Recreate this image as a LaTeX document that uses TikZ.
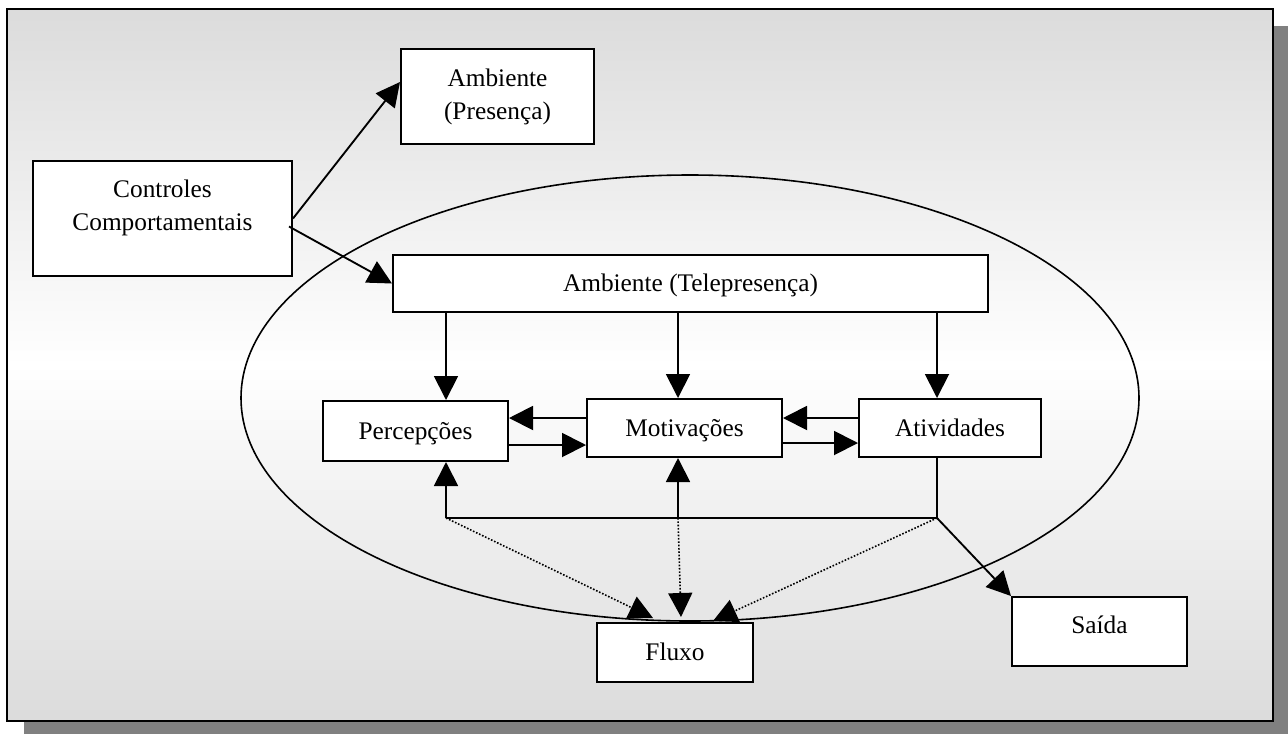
\documentclass[tikz,border=0pt]{standalone}
\usepackage{fontspec}
\setmainfont{Liberation Serif}
\usetikzlibrary{arrows.meta,calc,shapes.geometric}
\begin{document}
\begin{tikzpicture}[x=0.75pt,y=-0.75pt,
  every node/.style={font=\fontsize{19}{24.75}\selectfont},
  box/.style={draw=black,fill=white,line width=1.5pt,inner sep=0pt,align=center},
  lbl/.style={text height=12pt,text depth=0pt},
  arr/.style={line width=1.4pt,-{Triangle[length=18pt,width=18pt]}},
  conn/.style={line width=1.4pt},
  dots/.style={line width=1.2pt,dash pattern=on 1.2pt off 1.3pt,-{Triangle[length=18pt,width=18pt]}}
]
\useasboundingbox (0,0) rectangle (1288,733);
\clip (0,0) rectangle (1288,733);
% shadow and frame
\fill[black!50] (24,26) rectangle (1295,745);
\shade[top color=black!14,bottom color=black!14,middle color=white] (7,9) rectangle (1273,721);
\draw[line width=1.6pt] (7,9) rectangle (1273,721);
% ellipse
\draw[line width=1.2pt] (690,398) ellipse [x radius=449,y radius=223];
% boxes
\node[box,minimum width=193*0.75pt,minimum height=95*0.75pt] (pres) at (497.5,96.5) {Ambiente\\(Presença)};
\node[box,minimum width=259*0.75pt,minimum height=115*0.75pt] (ctrl) at (162.5,218.5) {};
\node[align=center,inner sep=0pt] (ctrltxt) at (162.5,208) {Controles\\Comportamentais};
\node[box,lbl,minimum width=595*0.75pt,minimum height=57*0.75pt] (tele) at (690.5,283.5) {Ambiente (Telepresença)};
\node[box,lbl,minimum width=185*0.75pt,minimum height=60*0.75pt] (perc) at (415.5,431) {Percepções};
\node[box,lbl,minimum width=195*0.75pt,minimum height=58*0.75pt] (motiv) at (684.5,428) {Motivações};
\node[box,lbl,minimum width=182*0.75pt,minimum height=58*0.75pt] (ativ) at (950,428) {Atividades};
\node[box,lbl,minimum width=156*0.75pt,minimum height=59*0.75pt] (fluxo) at (675,652.5) {Fluxo};
\node[box,lbl,text depth=9.75pt,minimum width=175*0.75pt,minimum height=69*0.75pt] (saida) at (1099.5,631.5) {Saída};
% junction coordinates
\coordinate (c1) at (446,518);
\coordinate (c2) at (678,518);
\coordinate (c3) at (937,518);
% controls arrows
\draw[arr] (ctrl.east) -- ($(pres.west)+(0,-14.5)$);
\draw[arr] ($(ctrl.east)+(-4,8)$) -- (tele.west);
% down arrows
\draw[arr] (c1 |- tele.south) -- (c1 |- perc.north);
\draw[arr] (c2 |- tele.south) -- (c2 |- motiv.north);
\draw[arr] (c3 |- tele.south) -- (c3 |- ativ.north);
% horizontal arrows
\draw[arr] ($(motiv.west)+(0,-10)$) coordinate (m1) -- (m1 -| perc.east);
\draw[arr] ($(perc.east)+(0,14)$) coordinate (p1) -- (p1 -| motiv.west);
\draw[arr] ($(ativ.west)+(0,-10)$) coordinate (a1) -- (a1 -| motiv.east);
\draw[arr] ($(motiv.east)+(0,15)$) coordinate (m2) -- (m2 -| ativ.west);
% feedback
\draw[conn] (c3 |- ativ.south) -- (c3) -- (c1);
\draw[arr] (c1) -- (c1 |- perc.south);
\draw[arr] (c2) -- (c2 |- motiv.south);
\draw[arr] (c3) -- (saida.north west);
% dotted to fluxo
\draw[dots] (c1) -- ($(fluxo.north)+(-22,-4)$);
\draw[dots] (c2) -- ($(fluxo.north)+(6,-5)$);
\draw[dots] (c3) -- ($(fluxo.north)+(38,-1)$);
\end{tikzpicture}
\end{document}
